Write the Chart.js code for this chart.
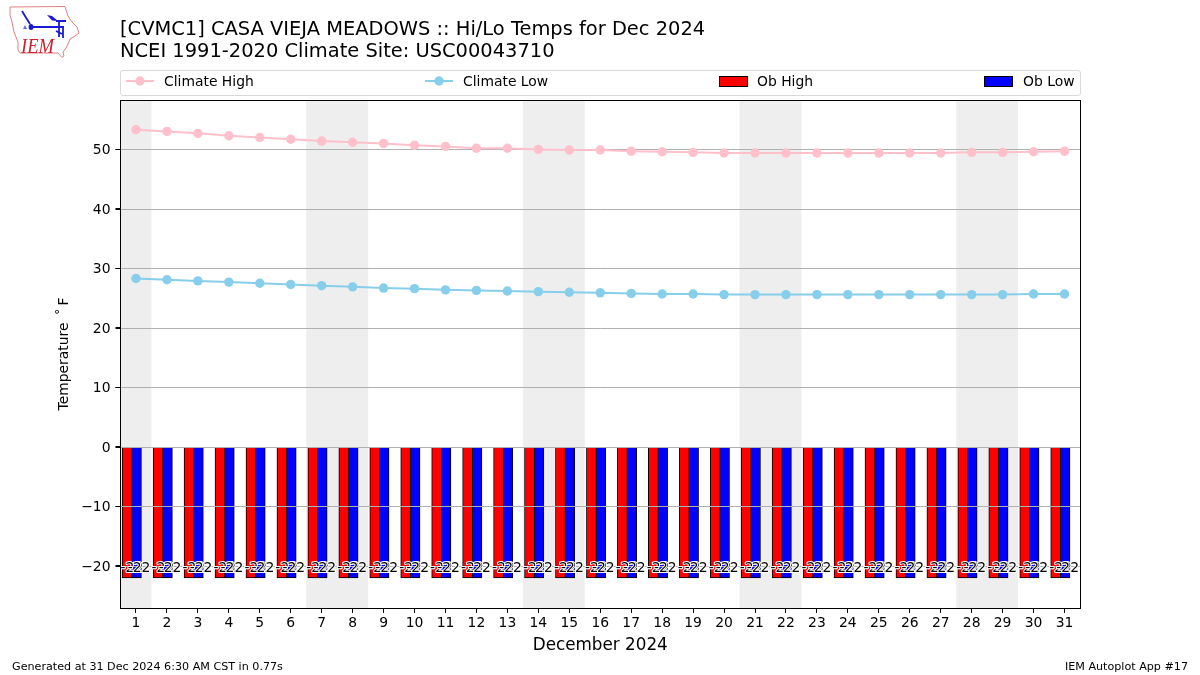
<!DOCTYPE html>
<html>
<head>
<meta charset="utf-8">
<script src="https://cdn.jsdelivr.net/npm/chart.js@4/dist/chart.umd.min.js"></script>
<style>
  html, body { margin: 0; padding: 0; background: #fff; }
  body { width: 1200px; height: 675px; position: relative; overflow: hidden; font-family: "DejaVu Sans", sans-serif; color: #000; }
  #wrap { position: absolute; left: 0; top: 0; width: 1200px; height: 675px; }
  .title { position: absolute; left: 120px; top: 18px; font-size: 19.45px; line-height: 21.5px; white-space: nowrap; }
  .foot { position: absolute; top: 660px; font-size: 11.15px; line-height: 14px; white-space: nowrap; }
  #legend { position: absolute; left: 120px; top: 70px; width: 959px; height: 24px; border: 1px solid #d9d9d9; border-radius: 3px; box-sizing: content-box; }
  .item { position: absolute; top: 0; height: 24px; font-size: 13.9px; line-height: 21px; white-space: nowrap; }
  .item svg { position: absolute; left: 0; top: 0; }
  .item span { position: absolute; top: 0; }
  #logo { position: absolute; left: 8px; top: 5px; }
</style>
</head>
<body>
<div id="wrap"><canvas id="tempChart"></canvas></div>

<svg id="logo" width="72" height="54" viewBox="8 5 72 54">
  <path d="M10 7 L65 6.5 L66 10 L68 16 L72 22 L77 27 L79 33 L75 36 L70 39 L68 44 L66 48 L63 52 L64 56 L62 57.5 L58 53 L20 53 L18 50 L18 42 L14 32 L12 22 L10 15 Z" fill="none" stroke="#e08080" stroke-width="1"/>
  <path d="M31 27 L64 27 M56 21 L66 21 M59 21 L59 37 M22 11 L25 16 L30 24 M63 28 L63 38 M56 31 L62 34" fill="none" stroke="#1a1ad6" stroke-width="1.8"/>
  <ellipse cx="31" cy="27" rx="2.4" ry="3" fill="#1a1ad6"/>
  <path d="M47 15 L52 16 L58 21 L52 20.5 Z" fill="#1a1ad6"/>
  <path d="M23 29 L25 25 L27 29 Z" fill="#6a6ae0"/>
  <text x="21" y="53" font-family="Liberation Serif" font-style="italic" font-size="22" textLength="33" lengthAdjust="spacingAndGlyphs" fill="#d02030">IEM</text>
</svg>

<div class="title">[CVMC1] CASA VIEJA MEADOWS :: Hi/Lo Temps for Dec 2024<br>NCEI 1991-2020 Climate Site: USC00043710</div>

<div id="legend">
  <div class="item" style="left:5px"><svg width="30" height="24"><line x1="0" x2="28" y1="10" y2="10" stroke="#ffc0cb" stroke-width="2"/><circle cx="14" cy="10" r="4.7" fill="#ffc0cb"/></svg><span style="left:38px">Climate High</span></div>
  <div class="item" style="left:304px"><svg width="30" height="24"><line x1="0" x2="28" y1="10" y2="10" stroke="#87ceeb" stroke-width="2"/><circle cx="14" cy="10" r="4.7" fill="#87ceeb"/></svg><span style="left:38px">Climate Low</span></div>
  <div class="item" style="left:598px"><svg width="30" height="24"><rect x="0.5" y="5.5" width="28" height="10" fill="#ff0000" stroke="#000"/></svg><span style="left:38px">Ob High</span></div>
  <div class="item" style="left:863px"><svg width="30" height="24"><rect x="0.5" y="5.5" width="28" height="10" fill="#0000ff" stroke="#000"/></svg><span style="left:39px">Ob Low</span></div>
</div>

<div class="foot" style="left:12px">Generated at 31 Dec 2024 6:30 AM CST in 0.77s</div>
<div class="foot" style="right:12px">IEM Autoplot App #17</div>

<script>
const days = [1,2,3,4,5,6,7,8,9,10,11,12,13,14,15,16,17,18,19,20,21,22,23,24,25,26,27,28,29,30,31];
const climateHigh = [53.3,53.0,52.7,52.3,52.0,51.7,51.4,51.2,51.0,50.7,50.5,50.2,50.2,50.0,49.9,49.9,49.7,49.6,49.5,49.4,49.4,49.4,49.4,49.4,49.4,49.4,49.4,49.5,49.5,49.6,49.7];
const climateLow = [28.3,28.1,27.9,27.7,27.5,27.3,27.1,26.9,26.7,26.6,26.4,26.3,26.2,26.1,26.0,25.9,25.8,25.7,25.7,25.6,25.6,25.6,25.6,25.6,25.6,25.6,25.6,25.6,25.6,25.7,25.7];
const obHigh = [-22,-22,-22,-22,-22,-22,-22,-22,-22,-22,-22,-22,-22,-22,-22,-22,-22,-22,-22,-22,-22,-22,-22,-22,-22,-22,-22,-22,-22,-22,-22];
const obLow = [-22,-22,-22,-22,-22,-22,-22,-22,-22,-22,-22,-22,-22,-22,-22,-22,-22,-22,-22,-22,-22,-22,-22,-22,-22,-22,-22,-22,-22,-22,-22];
const weekendSpans = [[0.5,1.5],[6.5,8.5],[13.5,15.5],[20.5,22.5],[27.5,29.5]];
const yTicks = [-20,-10,0,10,20,30,40,50];

const fontName = '"DejaVu Sans"';
const highShift = -0.285;
const lowShift = 0.015;

function points(values, shift) {
  return values.map((v, i) => ({ x: days[i] + shift, y: v }));
}

// grid goes over the bars, bar labels over the grid, climate lines over all of it
function drawBarLabels(chart) {
  const { ctx, scales } = chart;
  ctx.font = '13.9px ' + fontName;
  ctx.textAlign = 'center';
  ctx.textBaseline = 'middle';
  ctx.lineJoin = 'round';
  [[obHigh, -0.13], [obLow, 0.1]].forEach(([vals, shift]) => {
    vals.forEach((v, i) => {
      const x = scales.x.getPixelForValue(days[i] + shift);
      const y = scales.y.getPixelForValue(-20) + 2;
      ctx.strokeStyle = '#fff';
      ctx.lineWidth = 2;
      ctx.strokeText(String(v), x, y);
      ctx.fillStyle = '#000';
      ctx.fillText(String(v), x, y);
    });
  });
}

function drawGrid(chart) {
  const { ctx, chartArea, scales } = chart;
  ctx.strokeStyle = '#b0b0b0';
  ctx.lineWidth = 1;
  yTicks.forEach(t => {
    const y = Math.round(scales.y.getPixelForValue(t)) + 0.5;
    ctx.beginPath();
    ctx.moveTo(chartArea.left, y);
    ctx.lineTo(chartArea.right, y);
    ctx.stroke();
  });
}

const extras = {
  id: 'extras',
  beforeDraw(chart) {
    const { ctx, chartArea, scales } = chart;
    ctx.save();
    ctx.fillStyle = '#eeeeee';
    weekendSpans.forEach(s => {
      const x0 = scales.x.getPixelForValue(s[0]);
      const x1 = scales.x.getPixelForValue(s[1]);
      ctx.fillRect(x0, chartArea.top, x1 - x0, chartArea.bottom - chartArea.top);
    });
    ctx.restore();
  },
  afterDatasetDraw(chart, args) {
    // Ob High is the last bar set to be drawn
    if (args.index !== 2) return;
    chart.ctx.save();
    drawGrid(chart);
    drawBarLabels(chart);
    chart.ctx.restore();
  },
  afterDraw(chart) {
    const { ctx, chartArea, scales } = chart;
    const left = Math.floor(chartArea.left) + 0.5;
    const top = Math.floor(chartArea.top) + 0.5;
    const right = Math.floor(chartArea.right) + 0.5;
    const bottom = Math.floor(chartArea.bottom) + 0.5;
    ctx.save();
    ctx.strokeStyle = '#000';
    ctx.lineWidth = 1;
    ctx.strokeRect(left, top, right - left, bottom - top);
    yTicks.forEach(t => {
      const y = Math.round(scales.y.getPixelForValue(t)) + 0.5;
      ctx.beginPath();
      ctx.moveTo(left - 5, y);
      ctx.lineTo(left, y);
      ctx.stroke();
    });
    ctx.restore();
  }
};

function lineSet(label, values, color) {
  return {
    type: 'line', label, data: points(values, 0), borderColor: color, backgroundColor: color,
    borderWidth: 2, pointRadius: 4.7, pointBorderWidth: 0, pointHoverRadius: 4.7, tension: 0, order: 1
  };
}

function barSet(label, values, color, shift) {
  return {
    type: 'bar', label, data: points(values, shift), backgroundColor: color, borderColor: '#000',
    borderWidth: 1, barThickness: 10, grouped: false, order: 2
  };
}

new Chart(document.getElementById('tempChart'), {
  data: {
    datasets: [
      lineSet('Climate High', climateHigh, '#ffc0cb'),
      lineSet('Climate Low', climateLow, '#87ceeb'),
      barSet('Ob High', obHigh, '#ff0000', highShift),
      barSet('Ob Low', obLow, '#0000ff', lowShift)
    ]
  },
  options: {
    responsive: true,
    maintainAspectRatio: false,
    animation: false,
    layout: { padding: { left: 50, right: 120, top: 100, bottom: 20 } },
    plugins: { legend: { display: false }, tooltip: { enabled: false } },
    scales: {
      x: {
        type: 'linear', min: 0.5, max: 31.5, offset: false,
        afterFit: s => { s.height = 47; },
        afterBuildTicks: s => { s.ticks = days.map(value => ({ value })); },
        grid: { offset: false, drawOnChartArea: false, tickColor: '#000', tickLength: 5 },
        border: { display: false },
        ticks: { color: '#000', font: { family: fontName, size: 13.9 }, maxRotation: 0, autoSkip: false, padding: 2, callback: v => String(v) },
        title: { display: true, text: 'December 2024', color: '#000', font: { family: fontName, size: 16.8 }, padding: { top: 2, bottom: -1 } }
      },
      y: {
        type: 'linear', min: -27.06, max: 58.3,
        afterFit: s => { s.width = 70.5; },
        afterBuildTicks: s => { s.ticks = yTicks.map(value => ({ value })); },
        grid: { drawOnChartArea: false, tickColor: '#000', tickLength: 5 },
        border: { display: false },
        ticks: { color: '#000', font: { family: fontName, size: 13.9 }, padding: 5, labelOffset: 1, callback: v => String(v).replace('-', '\u2212') },
        title: { display: true, text: 'Temperature \u2009\u02DA\u2009F', color: '#000', font: { family: fontName, size: 13.9 }, padding: { top: 6, bottom: 8 } }
      }
    }
  },
  plugins: [extras]
});
</script>
</body>
</html>
